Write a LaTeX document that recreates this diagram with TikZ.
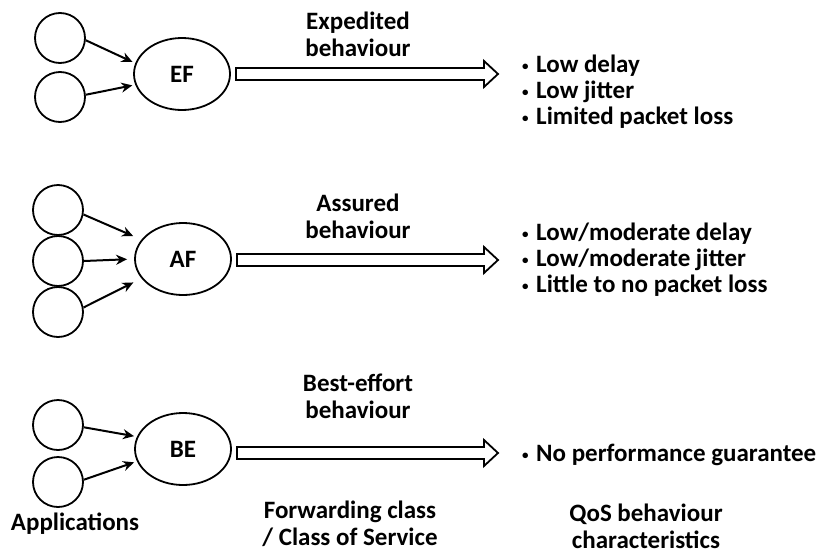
\documentclass[tikz,border=0pt]{standalone}
\usepackage{fontspec}
\setmainfont{Carlito}
\usetikzlibrary{arrows.meta,calc,shapes.geometric}
\newcommand\fatarrow[2]{%
  \draw[fat] ($(#1)+(0,-6)$) -- ($(#2)+(-14,-6)$) -- ($(#2)+(-14,-13)$) -- (#2)
    -- ($(#2)+(-14,13)$) -- ($(#2)+(-14,6)$) -- ($(#1)+(0,6)$) -- cycle;}
\newcommand\bul{\makebox[16pt][l]{\hspace{2pt}\raisebox{2.5pt}{\fontsize{13}{13}\selectfont •}}}
\begin{document}
\begin{tikzpicture}[x=1pt,y=-1pt,
  app/.style={circle, draw, line width=1.8pt, minimum size=50pt, inner sep=0},
  cls/.style={ellipse, draw, line width=1.8pt, minimum width=96pt, minimum height=72pt, inner sep=0,
    font=\bfseries\fontsize{25}{27}\selectfont},
  lbl/.style={align=center, inner sep=0, font=\bfseries\fontsize{25}{27}\selectfont},
  lst/.style={align=left, anchor=west, inner sep=0, font=\bfseries\fontsize{25}{26}\selectfont},
  feed/.style={line width=2pt, -{Stealth[length=11pt,width=10pt]}},
  fat/.style={line width=1.8pt, line join=miter}
]
\fill[white] (0,0) rectangle (818,554);
\useasboundingbox (0,0) rectangle (818,554);

% ---------- EF ----------
\node[app] (e1) at (60,38) {};
\node[app] (e2) at (60,97) {};
\node[cls] (EF) at (182,74) {EF};
\draw[feed, shorten >=3pt] (e1.-5) -- (EF.167);
\draw[feed, shorten >=3pt] (e2.5) -- (EF.193);
\node[lbl] (EFl) at (358,34) {Expedited\\behaviour};
\node[lst] (EFq) at (520,92) {\bul Low delay\\\bul Low jitter\\\bul Limited packet loss};
\coordinate (EFs) at ($(EF.east)+(5,0)$);
\coordinate (EFt) at (EFs -| 498,0);
\fatarrow{EFs}{EFt}

% ---------- AF ----------
\node[app] (a1) at (58,210) {};
\node[app] (a2) at (58,261) {};
\node[app] (a3) at (58,312) {};
\node[cls] (AF) at (183,259) {AF};
\draw[feed, shorten >=9pt] (a1.-10) -- (AF.155);
\draw[feed, shorten >=7pt] (a2.east) -- (AF.west);
\draw[feed, shorten >=9pt] (a3.10) -- (AF.205);
\node[lbl] (AFl) at (358,216) {Assured\\behaviour};
\node[lst] (AFq) at (520,260) {\bul Low/moderate delay\\\bul Low/moderate jitter\\\bul Little to no packet loss};
\coordinate (AFs) at ($(AF.east)+(5,1)$);
\coordinate (AFt) at (AFs -| 498,0);
\fatarrow{AFs}{AFt}

% ---------- BE ----------
\node[app] (b1) at (58,425) {};
\node[app] (b2) at (58,482) {};
\node[cls] (BE) at (183,449) {BE};
\draw[feed, shorten >=3pt] (b1.-5) -- (BE.165);
\draw[feed, shorten >=3pt] (b2.5) -- (BE.195);
\node[lbl] (BEl) at (358,396) {Best-effort\\behaviour};
\node[lst] (BEq) at (520,455) {\bul No performance guarantee};
\coordinate (BEs) at ($(BE.east)+(5,4)$);
\coordinate (BEt) at (BEs -| 498,0);
\fatarrow{BEs}{BEt}

% ---------- column captions ----------
\node[lbl] (apps) at (75,524) {Applications};
\node[lbl] (fwd) at (350,524) {Forwarding class\\/ Class of Service};
\node[lbl] (qos) at (646,526) {QoS behaviour\\characteristics};
\end{tikzpicture}
\end{document}
